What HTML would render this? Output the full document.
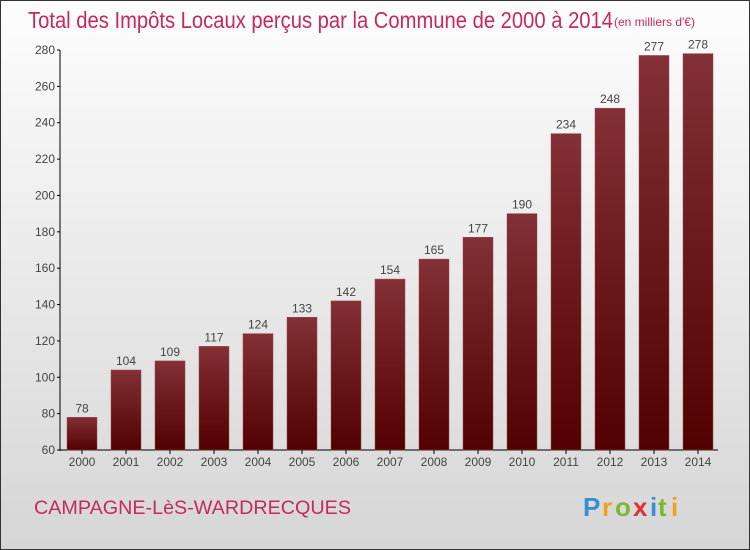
<!DOCTYPE html>
<html><head><meta charset="utf-8"><style>
body{margin:0}
#c{width:750px;height:550px;position:relative;box-sizing:border-box;border:1px solid #333;background:linear-gradient(#fdfdfd,#d6d6d6);font-family:"Liberation Sans",sans-serif;overflow:hidden}
</style></head><body>
<div id="c">
<svg width="750" height="550" style="position:absolute;left:-1px;top:-1px">
<defs><linearGradient id="g" x1="0" y1="0" x2="0" y2="1"><stop offset="0" stop-color="#833036"/><stop offset="1" stop-color="#520000"/></linearGradient></defs>
<text x="28" y="28" font-size="23" fill="#c42a5c" font-weight="300" textLength="585" lengthAdjust="spacingAndGlyphs">Total des Impôts Locaux perçus par la Commune de 2000 à 2014</text>
<text x="614" y="26" font-size="12" fill="#c42a5c">(en milliers d'€)</text>
<g id="plot"></g>
<text x="34" y="514" font-size="19" fill="#c42a5c" textLength="317" lengthAdjust="spacingAndGlyphs">CAMPAGNE-LèS-WARDRECQUES</text>
<g font-size="26" font-weight="bold">
<text x="583" y="516" fill="#3a8fd0">P</text><text x="602" y="516" fill="#f0a020">r</text><text x="615" y="516" fill="#7ab830">o</text><text x="633" y="516" fill="#e03030">x</text><text x="650" y="516" fill="#3a8fd0">i</text><text x="658" y="516" fill="#7ab830">t</text><text x="671" y="516" fill="#f0a020">i</text>
</g>
</svg>
</div>
<script>
const years=['2000','2001','2002','2003','2004','2005','2006','2007','2008','2009','2010','2011','2012','2013','2014'];
const values=[78,104,109,117,124,133,142,154,165,177,190,234,248,277,278];
const yTicks=[60,80,100,120,140,160,180,200,220,240,260,280];
const NS='http://www.w3.org/2000/svg';
const p=document.getElementById('plot');
const y=v=>450-(v-60)*400/220;
const x=i=>82+i*44;
function mk(t,a){const e=document.createElementNS(NS,t);for(const k in a)e.setAttribute(k,a[k]);p.appendChild(e);return e;}
let e=mk('line',{x1:60,y1:50,x2:60,y2:451,stroke:'#000'});


e=mk('line',{x1:60,y1:450,x2:718,y2:450,stroke:'#000'});


yTicks.forEach(v=>{
 const t=mk('line',{x1:57,y1:y(v),x2:60,y2:y(v),stroke:'#000'});
 
 
 const l=mk('text',{x:55,y:y(v)+4,'font-size':12,fill:'#444','text-anchor':'end'});
 l.textContent=v;
 
 
});
years.forEach((yr,i)=>{
 const v=values[i];
 const b=mk('rect',{x:x(i)-15,y:y(v),width:30,height:450-y(v),fill:'url(#g)',stroke:'#9a4a50','stroke-width':0.5});
 
 
 const t=mk('line',{x1:x(i),y1:450,x2:x(i),y2:454,stroke:'#000'});
 
 
 const l=mk('text',{x:x(i),y:466,'font-size':12,fill:'#444','text-anchor':'middle'});
 l.textContent=yr;
 
 
 const vl=mk('text',{x:x(i),y:y(v)-5,'font-size':12,fill:'#444','text-anchor':'middle'});
 vl.textContent=v;
 
 
});
</script>
</body></html>
